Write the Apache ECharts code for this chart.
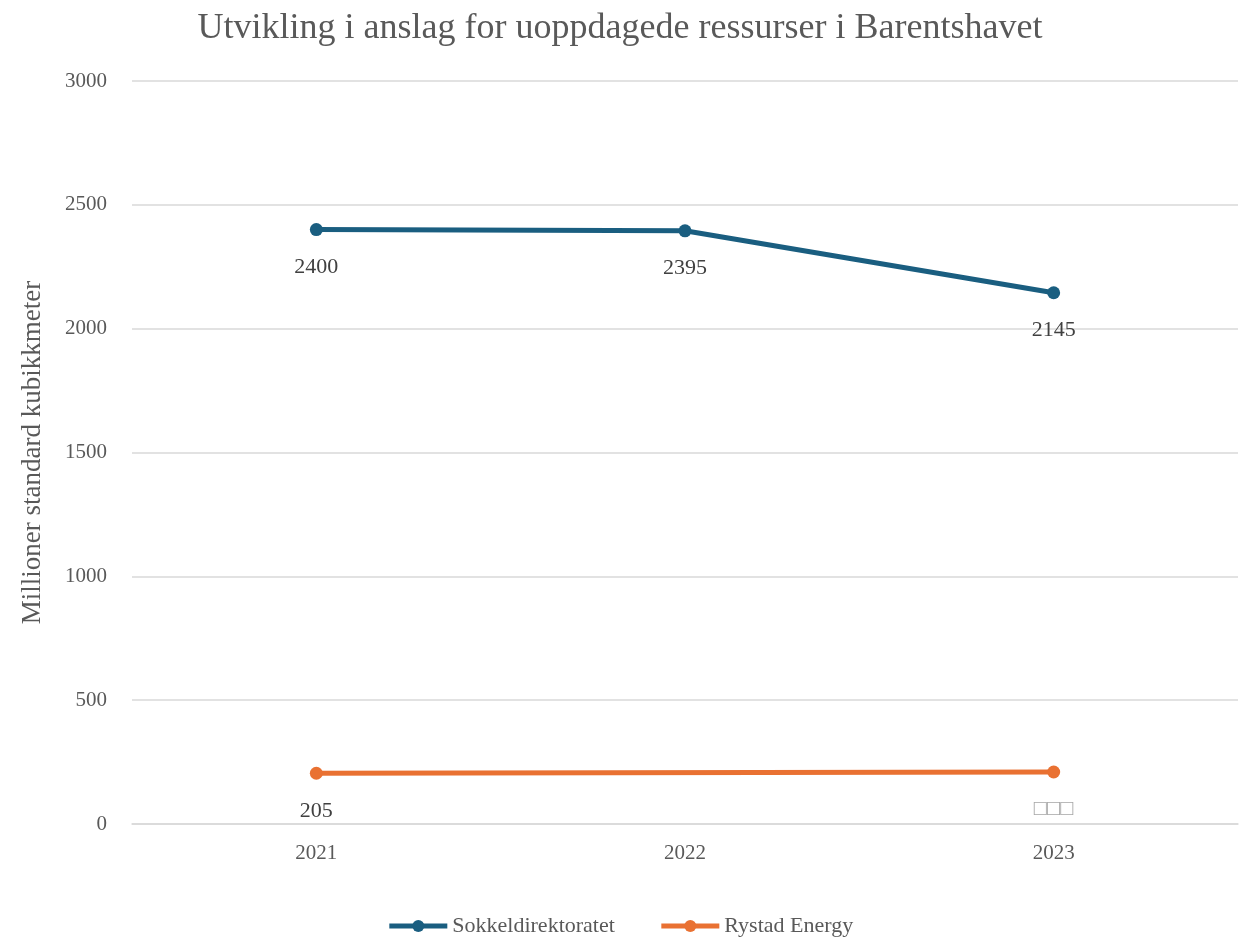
<!DOCTYPE html>
<html>
<head>
    <meta charset="utf-8">
    <title>ECharts</title>
    <script src="https://cdn.jsdelivr.net/npm/echarts@6/dist/echarts.min.js"></script>
</head>
<body style="margin:0">
 <div id="main" style="width: 1240px;height:940px;"></div>
 <script type="text/javascript">
 var years = ['2021', '2022', '2023'];
 var sokkel = [2400, 2395, 2145];
 var rystad = [205, null, 210];
 var rystadLabels = ['205', '', '{box|\u25A1\u25A1\u25A1}'];

 var serif = '"Liberation Serif", "Times New Roman", serif';
 var myChart = echarts.init(document.getElementById('main'));
 myChart.setOption({
     animation: false,
     backgroundColor: '#fff',
     textStyle: { fontFamily: serif },
     title: {
         text: 'Utvikling i anslag for uoppdagede ressurser i Barentshavet',
         left: 'center',
         top: 6,
         textStyle: { fontFamily: serif, fontSize: 36, fontWeight: 'normal', color: '#595959' }
     },
     legend: {
         bottom: -2,
         left: 'center',
         itemWidth: 58,
         itemHeight: 15,
         itemGap: 44,
         lineStyle: { width: 5 },
         textStyle: { fontFamily: serif, fontSize: 22, color: '#595959' },
         data: ['Sokkeldirektoratet', 'Rystad Energy']
     },
     grid: { left: 132, right: 2, top: 81, bottom: 116, containLabel: false },
     xAxis: {
         type: 'category',
         data: years,
         axisLine: { lineStyle: { color: '#d9d9d9', width: 1.5 } },
         axisTick: { show: false },
         axisLabel: { fontFamily: serif, fontSize: 21, color: '#595959', margin: 19 }
     },
     yAxis: {
         type: 'value',
         min: 0,
         max: 3000,
         interval: 500,
         name: 'Millioner standard kubikkmeter',
         nameLocation: 'middle',
         nameGap: 86,
         nameTextStyle: { fontFamily: serif, fontSize: 27, color: '#595959' },
         axisLine: { show: false },
         axisTick: { show: false },
         axisLabel: {
             fontFamily: serif, fontSize: 21, color: '#595959', margin: 25,
             formatter: function (v) { return String(v); }
         },
         splitLine: { lineStyle: { color: '#d9d9d9', width: 1.5 } }
     },
     series: [{
         name: 'Sokkeldirektoratet',
         type: 'line',
         data: sokkel,
         symbol: 'circle',
         symbolSize: 13,
         lineStyle: { width: 5, color: '#1a5e80' },
         itemStyle: { color: '#1a5e80' },
         label: {
             show: true,
             position: 'bottom',
             distance: 20,
             fontFamily: serif,
             fontSize: 22,
             color: '#404040'
         }
     }, {
         name: 'Rystad Energy',
         type: 'line',
         data: rystad,
         connectNulls: true,
         symbol: 'circle',
         symbolSize: 13,
         lineStyle: { width: 5, color: '#e97132' },
         itemStyle: { color: '#e97132' },
         label: {
             show: true,
             position: 'bottom',
             distance: 20,
             fontFamily: serif,
             fontSize: 22,
             color: '#404040',
             formatter: function (p) {
                 return rystadLabels[p.dataIndex];
             },
             rich: {
                 box: { fontFamily: serif, fontSize: 22, color: '#a6a6a6' }
             }
         }
     }]
 });
 </script>
</body>
</html>
